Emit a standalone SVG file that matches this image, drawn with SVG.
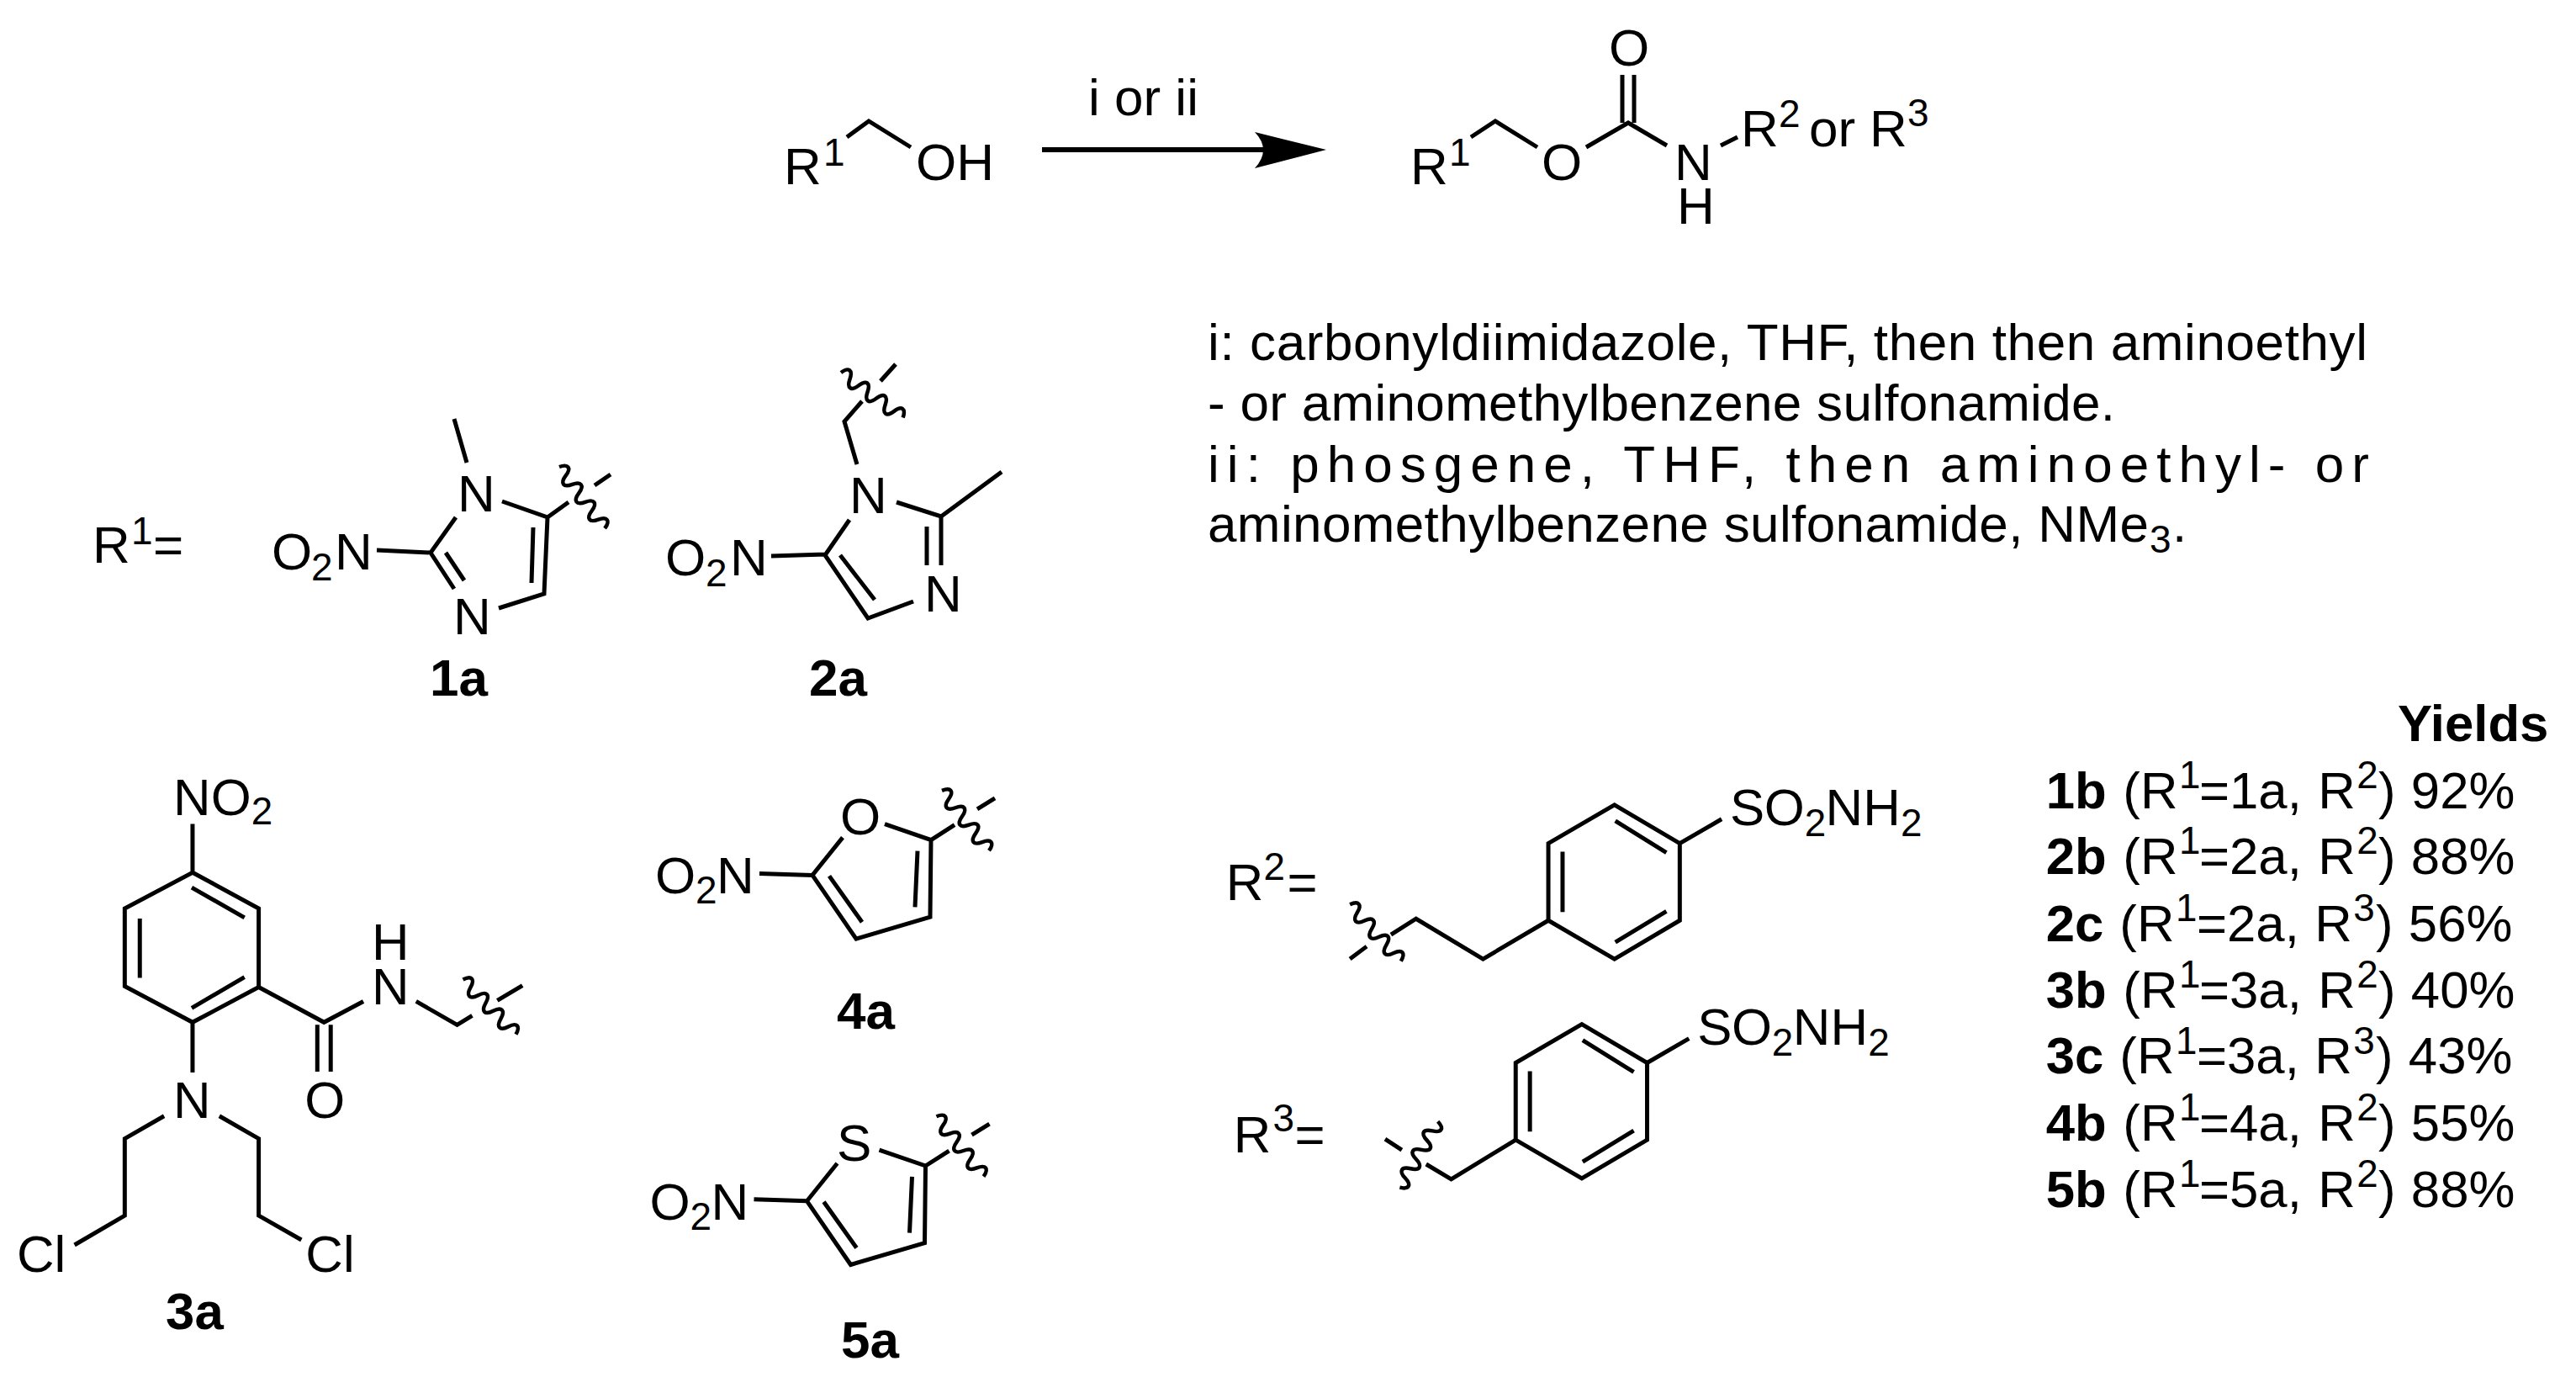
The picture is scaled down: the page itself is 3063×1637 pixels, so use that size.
<svg xmlns="http://www.w3.org/2000/svg" xmlns:xlink="http://www.w3.org/1999/xlink" width="3063" height="1637" viewBox="0 0 3063 1637">
<style>
text{font-family:"Liberation Sans",Arial,sans-serif;font-size:62px;fill:#000}
.sm{font-size:46px}
.bd{font-weight:bold}
.k{fill:none;stroke:#000;stroke-width:5;stroke-linejoin:miter}
.w{fill:none;stroke:#000;stroke-width:4.500}
</style>
<defs>
<path id="wv" class="w" d="M0 0c3.300 -11 9.700 -11 13 0s9.700 11 13 0s9.700 -11 13 0s9.700 11 13 0s9.700 -11 13 0s9.700 11 13 0s9.700 -11 13 0"/>
<path id="hexR" class="k" d="M1922 957L2000 1003V1095L1922 1141L1843 1095V1003ZM1923 976L1984 1014M1860 1013V1085M1923 1121L1984 1084M2000 1003L2050 974"/>
<path id="fiveR" class="k" d="M1052 980L1107 999L1106 1091L1018 1117L966 1041L1002 996M903 1039L966 1041M986 1042L1025 1097M1088 1079L1091 1012M1107 999L1135 981M1162 962L1183 949"/>
</defs>
<rect width="3063" height="1637" fill="#fff"/>
<g id="connectors">
<path d="M1239 178H1503" stroke="#000" stroke-width="6" fill="none"/>
<path d="M1577 178L1492 157Q1512 178 1492 200Z" fill="#000"/>
</g>
<g id="arrow-label"><text x="1294" y="137">i or ii</text></g>
<g id="reactant" transform="translate(-1 0)">
<path class="k" d="M1008 163L1034 144L1084 175"/>
<text x="933" y="219">R</text><text class="sm" x="980" y="197">1</text>
<text x="1090" y="214">OH</text>
</g>
<g id="product">
<g transform="translate(-4 0)">
<path class="k" d="M1753 163L1782 144L1832 175M1890 175L1940 146L1986 173M1933 89V146M1947 89V146M2050 173L2070 163"/>
<text x="1681" y="219">R</text><text class="sm" x="1727" y="197">1</text>
<text x="1837" y="214">O</text><text x="1917" y="78">O</text>
<text x="1995" y="214">N</text><text x="1998" y="266">H</text>
</g>
<text x="2070" y="174">R</text><text class="sm" x="2115" y="151">2</text>
<text x="2151" y="174">or</text>
<text x="2223" y="174">R</text><text class="sm" x="2268" y="150">3</text>
</g>
<g id="conditions">
<text x="1436" y="428" textLength="1379" lengthAdjust="spacing">i: carbonyldiimidazole, THF, then then aminoethyl</text>
<text x="1436" y="500" textLength="1079" lengthAdjust="spacing">- or aminomethylbenzene sulfonamide.</text>
<text x="1436" y="573" textLength="1381" lengthAdjust="spacing">ii: phosgene, THF, then aminoethyl- or</text>
<text x="1436" y="644" textLength="1119" lengthAdjust="spacing">aminomethylbenzene sulfonamide, NMe</text>
<text class="sm" x="2556" y="657">3</text><text x="2583" y="644">.</text>
</g>
<g id="r1-label">
<text x="110" y="669">R</text><text class="sm" x="156" y="647">1</text><text x="182" y="669">=</text>
</g>
<g id="mol-1a" transform="translate(-3 0)">
<path class="k" d="M543 498L558 550M600 596L654 615L650 706L596 723M637 627L635 693M654 615L679 597M710 577L729 564M545 615L515 657L543 700M533 657L555 690M451 654L515 657"/>
<use xlink:href="#wv" href="#wv" transform="translate(668 555) rotate(53.5)"/>
<text x="547" y="608">N</text><text x="542" y="754">N</text>
<text x="326" y="677">O</text><text class="sm" x="373" y="690">2</text><text x="401" y="677">N</text>
<text class="bd" x="514" y="827">1a</text>
</g>
<g id="mol-2a">
<path class="k" d="M1019 552L1004 501L1025 477M1047 453L1065 433"/>
<use xlink:href="#wv" href="#wv" transform="translate(1000 443) rotate(36)"/>
<g transform="translate(-6 0)">
<path class="k" d="M1072 597L1125 614L1197 561M1125 614V672M1108 626V672M1092 715L1038 735L987 660L1016 618M1046 713L1005 660M923 661L987 659"/>
<text x="1016" y="610">N</text><text x="1105" y="727">N</text>
<text x="797" y="684">O</text><text class="sm" x="845" y="697">2</text><text x="874" y="684">N</text>
<text class="bd" x="968" y="827">2a</text>
</g>
</g>
<g id="mol-3a" transform="translate(0 4.400) scale(.9955 .995)">
<path class="k" d="M230 1038L309 1081V1175L230 1217L149 1174V1081ZM229 1056L292 1092M167 1093V1164M229 1200L292 1163M230 980V1038M309 1175L387 1217L434 1192M497 1192L546 1220L564 1209M594 1191L624 1173M379 1220V1276M395 1220V1276M230 1217V1277M196 1329L149 1356V1448L89 1483M262 1329L309 1356V1448L360 1477"/>
<use xlink:href="#wv" href="#wv" transform="translate(553 1166) rotate(46)"/>
<text x="207" y="969">N</text><text x="252" y="969">O</text><text class="sm" x="300" y="981">2</text>
<text x="444" y="1196">N</text><text x="444" y="1142">H</text>
<text x="364" y="1331">O</text><text x="207" y="1331">N</text>
<text x="20" y="1515">Cl</text><text x="365" y="1515">Cl</text>
<text class="bd" x="198" y="1584">3a</text>
</g>
<g id="mol-4a" transform="translate(0 3.800) scale(1 .9958)">
<use xlink:href="#fiveR" href="#fiveR"/>
<use xlink:href="#wv" href="#wv" transform="translate(1120 940) rotate(52)"/>
<text x="999" y="992">O</text>
<text x="779" y="1063">O</text><text class="sm" x="827" y="1075">2</text><text x="852" y="1063">N</text>
<text class="bd" x="995" y="1224">4a</text>
</g>
<g id="mol-5a" transform="translate(0 3.800) scale(1 .9958)">
<use xlink:href="#fiveR" href="#fiveR" transform="translate(-6.500 389)"/>
<use xlink:href="#wv" href="#wv" transform="translate(1113.500 1329) rotate(52)"/>
<text x="995" y="1382">S</text>
<text x="772.500" y="1452">O</text><text class="sm" x="820.500" y="1464">2</text><text x="845.500" y="1452">N</text>
<text class="bd" x="1000" y="1617">5a</text>
</g>
<g id="mol-r2" transform="translate(6.530 3.960) scale(.9954 .9957)">
<text x="1458" y="1071">R</text><text class="sm" x="1503" y="1047">2</text><text x="1531" y="1071">=</text>
<use xlink:href="#hexR" href="#hexR"/>
<path class="k" d="M1843 1095L1765 1141L1685 1093L1655 1112M1626 1126L1606 1141"/>
<use xlink:href="#wv" href="#wv" transform="translate(1606 1076) rotate(48)"/>
<text x="2060" y="981">S</text><text x="2101" y="981">O</text><text class="sm" x="2149" y="994">2</text><text x="2174" y="981">N</text><text x="2219" y="981">H</text><text class="sm" x="2264" y="994">2</text>
</g>
<g id="mol-r3" transform="translate(6.530 3.960) scale(.9954 .9957)">
<text x="1467" y="1372">R</text><text class="sm" x="1514" y="1347">3</text><text x="1540" y="1372">=</text>
<use xlink:href="#hexR" href="#hexR" transform="translate(-39 262)"/>
<path class="k" d="M1804 1357L1727 1404L1697 1386M1648 1356L1668 1369"/>
<use xlink:href="#wv" href="#wv" transform="translate(1711 1335) rotate(120)"/>
<text x="2021" y="1243">S</text><text x="2062" y="1243">O</text><text class="sm" x="2110" y="1256">2</text><text x="2135" y="1243">N</text><text x="2180" y="1243">H</text><text class="sm" x="2225" y="1256">2</text>
</g>
<g id="yields" transform="translate(10.470 2.700) scale(.9956 .9967)">
<text class="bd" x="2853" y="881">Yields</text>
<text><tspan class="bd" x="2433" y="961">1b</tspan><tspan x="2525" y="961">(R</tspan><tspan class="sm" x="2592" y="937">1</tspan><tspan x="2616" y="961">=1a,</tspan><tspan x="2758" y="961">R</tspan><tspan class="sm" x="2804" y="937">2</tspan><tspan x="2830" y="961">)</tspan><tspan x="2869" y="961">92%</tspan></text>
<text><tspan class="bd" x="2433" y="1040">2b</tspan><tspan x="2525" y="1040">(R</tspan><tspan class="sm" x="2592" y="1016">1</tspan><tspan x="2616" y="1040">=2a,</tspan><tspan x="2758" y="1040">R</tspan><tspan class="sm" x="2804" y="1016">2</tspan><tspan x="2830" y="1040">)</tspan><tspan x="2869" y="1040">88%</tspan></text>
<text><tspan class="bd" x="2433" y="1120">2c</tspan><tspan x="2521" y="1120">(R</tspan><tspan class="sm" x="2588" y="1096">1</tspan><tspan x="2613" y="1120">=2a,</tspan><tspan x="2754" y="1120">R</tspan><tspan class="sm" x="2800" y="1096">3</tspan><tspan x="2827" y="1120">)</tspan><tspan x="2866" y="1120">56%</tspan></text>
<text><tspan class="bd" x="2433" y="1199">3b</tspan><tspan x="2525" y="1199">(R</tspan><tspan class="sm" x="2592" y="1175">1</tspan><tspan x="2616" y="1199">=3a,</tspan><tspan x="2758" y="1199">R</tspan><tspan class="sm" x="2804" y="1175">2</tspan><tspan x="2830" y="1199">)</tspan><tspan x="2869" y="1199">40%</tspan></text>
<text><tspan class="bd" x="2433" y="1278">3c</tspan><tspan x="2521" y="1278">(R</tspan><tspan class="sm" x="2588" y="1254">1</tspan><tspan x="2613" y="1278">=3a,</tspan><tspan x="2754" y="1278">R</tspan><tspan class="sm" x="2800" y="1254">3</tspan><tspan x="2827" y="1278">)</tspan><tspan x="2866" y="1278">43%</tspan></text>
<text><tspan class="bd" x="2433" y="1358">4b</tspan><tspan x="2525" y="1358">(R</tspan><tspan class="sm" x="2592" y="1334">1</tspan><tspan x="2616" y="1358">=4a,</tspan><tspan x="2758" y="1358">R</tspan><tspan class="sm" x="2804" y="1334">2</tspan><tspan x="2830" y="1358">)</tspan><tspan x="2869" y="1358">55%</tspan></text>
<text><tspan class="bd" x="2433" y="1437">5b</tspan><tspan x="2525" y="1437">(R</tspan><tspan class="sm" x="2592" y="1413">1</tspan><tspan x="2616" y="1437">=5a,</tspan><tspan x="2758" y="1437">R</tspan><tspan class="sm" x="2804" y="1413">2</tspan><tspan x="2830" y="1437">)</tspan><tspan x="2869" y="1437">88%</tspan></text>
</g>
</svg>
